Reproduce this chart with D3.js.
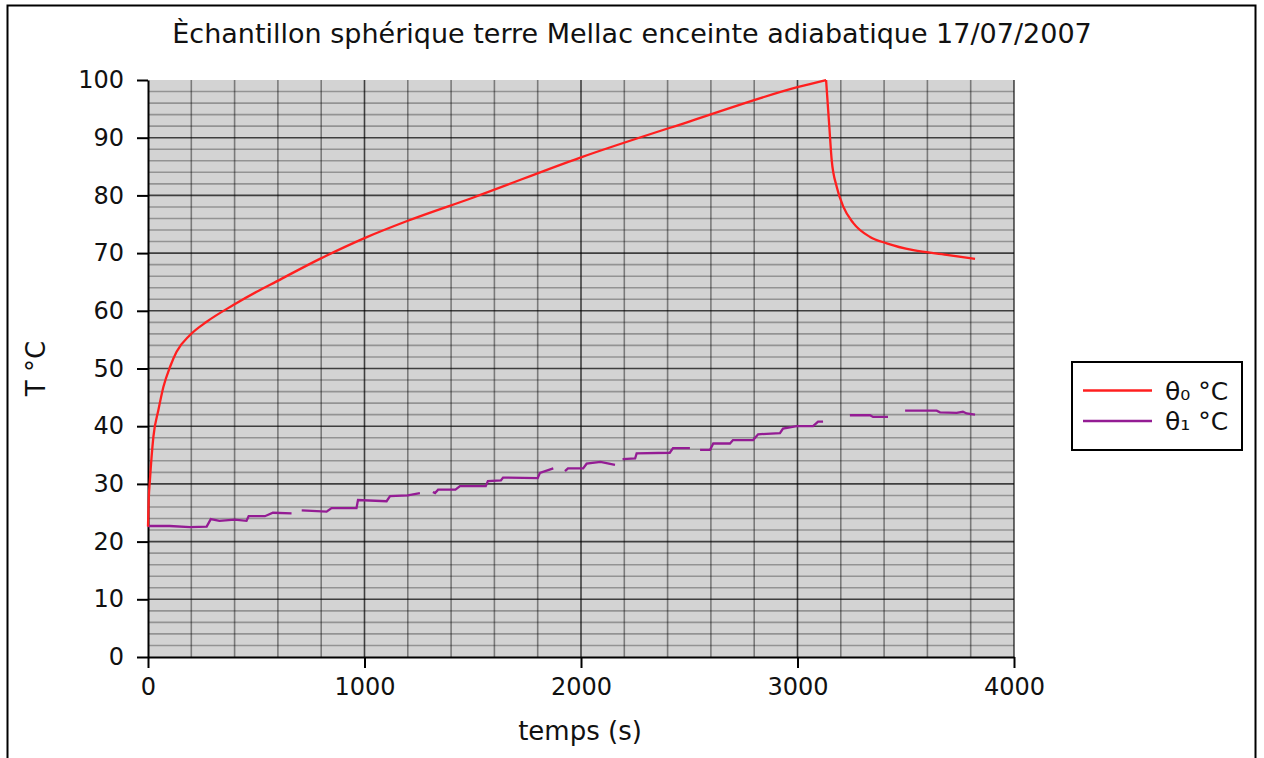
<!DOCTYPE html>
<html>
<head>
<meta charset="utf-8" />
<title>Echantillon sphérique terre Mellac</title>
<script src="https://cdnjs.cloudflare.com/ajax/libs/d3/7.8.5/d3.min.js"></script>
<style>
body { margin: 0; background: #fff; }
text { font-family: "DejaVu Sans", sans-serif; fill: #111; }
</style>
</head>
<body>
<svg id="chart" width="1264" height="758"></svg>
<script>
// theta0 (red) : time (s) and temperature (°C)
const t0 = [0, 3, 9, 25, 48, 71, 102, 132, 194, 271, 394, 502, 594, 794, 1000, 1200, 1500, 2000, 2500, 3004, 3132,
	3147, 3158, 3181, 3212, 3258, 3335, 3412, 3535, 3689, 3820];
const theta0 = [22.6, 27, 30.7, 38.2, 42.8, 46.8, 50.3, 52.9, 55.8, 58.1, 61.0, 63.3, 65.1, 69.0, 72.6, 75.6, 79.6, 86.6, 92.8, 98.8, 100,
	91.9, 86.1, 81.5, 78.0, 75.2, 72.8, 71.7, 70.5, 69.7, 69.0];

// theta1 (purple) : null = missing readings (gaps in the line)
const t1 = [0, 100, 194, 271, 290, 330, 400, 455, 465, 540, 577, 663, 686,
	710, 825, 848, 963, 970, 1102, 1118, 1200, 1256, 1290,
	1316, 1326, 1340, 1420, 1441, 1560, 1570, 1630, 1640, 1800, 1810, 1872, 1900,
	1926, 1940, 2010, 2026, 2090, 2157, 2175,
	2192, 2250, 2257, 2410, 2425, 2503, 2525,
	2550, 2596, 2611, 2688, 2702, 2795, 2818, 2919, 2933, 2996, 3072, 3095, 3118, 3180,
	3242, 3335, 3349, 3418, 3460,
	3497, 3643, 3658, 3735, 3764, 3781, 3820];
const theta1 = [22.7, 22.7, 22.5, 22.6, 23.9, 23.6, 23.8, 23.6, 24.4, 24.4, 25.0, 24.9, null,
	25.4, 25.2, 25.8, 25.8, 27.2, 27.0, 27.9, 28.0, 28.4, null,
	28.6, 28.4, 29.0, 29.0, 29.6, 29.6, 30.5, 30.6, 31.1, 31.0, 31.9, 32.7, null,
	32.2, 32.7, 32.7, 33.5, 33.8, 33.3, null,
	34.3, 34.4, 35.3, 35.4, 36.2, 36.2, null,
	35.9, 35.9, 37.0, 37.0, 37.6, 37.6, 38.6, 38.8, 39.6, 40.0, 40.0, 40.8, 40.8, null,
	41.9, 41.9, 41.6, 41.6, null,
	42.7, 42.7, 42.4, 42.3, 42.5, 42.2, 42.0];

const xTicks = [0, 1000, 2000, 3000, 4000];
const yTicks = [0, 10, 20, 30, 40, 50, 60, 70, 80, 90, 100];
const seriesNames = ["θ\u2080 °C", "θ\u2081 °C"];
const seriesColors = ["#ff1f1f", "#941c94"];

const svg = d3.select("#chart");
const x = d3.scaleLinear().domain([0, 4000]).range([148, 1014]);
const y = d3.scaleLinear().domain([0, 100]).range([657, 80]);

// outer frame
svg.append("rect").attr("x", 7.5).attr("y", 5.5).attr("width", 1248).attr("height", 800)
	.attr("fill", "none").attr("stroke", "#000").attr("stroke-width", 2);

// plot background
svg.append("rect").attr("x", x(0)).attr("y", y(100)).attr("width", x(4000) - x(0)).attr("height", y(0) - y(100))
	.attr("fill", "#d3d3d3");

// grid
const grid = svg.append("g");
grid.selectAll("line.h").data(d3.range(2, 100, 2)).enter().append("line")
	.attr("x1", x(0)).attr("x2", x(4000))
	.attr("y1", d => y(d)).attr("y2", d => y(d))
	.attr("stroke", "#000")
	.attr("stroke-opacity", d => d % 10 == 0 ? 0.7 : 0.3)
	.attr("stroke-width", 1.6);
grid.selectAll("line.v").data(d3.range(200, 4200, 200)).enter().append("line")
	.attr("y1", y(0)).attr("y2", y(100))
	.attr("x1", d => x(d)).attr("x2", d => x(d))
	.attr("stroke", "#000")
	.attr("stroke-opacity", d => d % 1000 == 0 ? 0.7 : 0.42)
	.attr("stroke-width", 1.6);

// axes
const xAxis = svg.append("g").attr("transform", `translate(0,${y(0)})`)
	.call(d3.axisBottom(x).tickValues(xTicks).tickFormat(d3.format("d")).tickSize(11).tickPadding(10).tickSizeOuter(0));
const yAxis = svg.append("g").attr("transform", `translate(${x(0)},0)`)
	.call(d3.axisLeft(y).tickValues(yTicks).tickSize(11).tickPadding(13).tickSizeOuter(0));
[xAxis, yAxis].forEach(a => {
	a.selectAll("path, line").attr("stroke", "#000").attr("stroke-width", 2);
	a.selectAll("text").attr("font-family", "DejaVu Sans").attr("font-size", 24).attr("fill", "#111");
});

// lines
const line = d3.line()
	.defined(d => d[1] !== null)
	.x(d => x(d[0])).y(d => y(d[1]));

svg.append("path")
	.datum(t1.map((t, i) => [t, theta1[i]]))
	.attr("fill", "none").attr("stroke", seriesColors[1]).attr("stroke-width", 2.3)
	.attr("d", line);

// red curve: heating part and cooling part drawn separately so the peak stays sharp
const red = t0.map((t, i) => [t, theta0[i]]);
const peak = d3.maxIndex(theta0);
const smooth = d3.line().x(d => x(d[0])).y(d => y(d[1])).curve(d3.curveMonotoneX);
[red.slice(0, peak + 1), red.slice(peak)].forEach(part => {
	svg.append("path").datum(part)
		.attr("fill", "none").attr("stroke", seriesColors[0]).attr("stroke-width", 2.3)
		.attr("stroke-linejoin", "round")
		.attr("d", smooth);
});

// titles
svg.append("text").attr("x", 632).attr("y", 43).attr("text-anchor", "middle").attr("font-size", 27)
	.text("Èchantillon sphérique terre Mellac enceinte adiabatique 17/07/2007");
svg.append("text").attr("x", 580).attr("y", 740).attr("text-anchor", "middle").attr("font-size", 26)
	.text("temps (s)");
svg.append("text").attr("transform", `translate(45,${(y(0) + y(100)) / 2}) rotate(-90)`)
	.attr("text-anchor", "middle").attr("font-size", 26).text("T °C");

// legend
const legend = svg.append("g");
legend.append("rect").attr("x", 1072).attr("y", 362).attr("width", 170).attr("height", 88)
	.attr("fill", "#fff").attr("stroke", "#000").attr("stroke-width", 2);
seriesNames.forEach((name, i) => {
	const ly = 390.5 + i * 30.5;
	legend.append("line").attr("x1", 1083).attr("x2", 1152).attr("y1", ly).attr("y2", ly)
		.attr("stroke", seriesColors[i]).attr("stroke-width", 2.3);
	legend.append("text").attr("x", 1165).attr("y", ly + 9).attr("font-size", 25).text(name);
});
</script>
</body>
</html>
